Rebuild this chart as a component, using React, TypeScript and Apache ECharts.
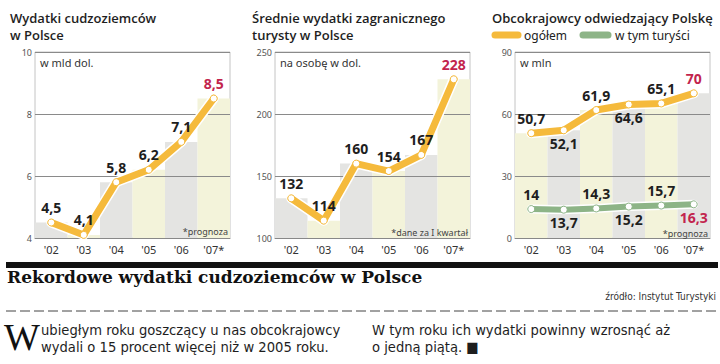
import React, { useEffect, useRef } from "react";
import * as echarts from "echarts";

const years = ["'02", "'03", "'04", "'05", "'06", "'07*"];
const spending = [4.5, 4.1, 5.8, 6.2, 7.1, 8.5];
const perTourist = [132, 114, 160, 154, 167, 228];
const visitorsTotal = [50.7, 52.1, 61.9, 64.6, 65.1, 70];
const visitorsTourists = [14, 13.7, 14.3, 15.2, 15.7, 16.3];

const axis1 = { min: 4, max: 10, interval: 2 };
const axis2 = { min: 100, max: 250, interval: 50 };
const axis3 = { min: 0, max: 90, interval: 30 };

const ORANGE = "#f5ba3c";
const GREEN = "#8db487";
const RED = "#c2244d";
const GRAY_COL = "#e4e4e2";
const CREAM_COL = "#f3f3da";
const INK = "#1e1e1e";

const GRID_LEFTS = [35, 275, 515];
const GRID_TOP = 52;
const GRID_W = 195;
const GRID_H = 186;

const fmt = (v: number) => String(v).replace(".", ",");

function pointData(values: number[], positions: string[], lastRed: boolean) {
  return values.map((v, i) => ({
    value: v,
    label: {
      position: positions[i],
      distance: positions[i] === "bottom" ? 2 : 4,
      color: lastRed && i === values.length - 1 ? RED : INK,
    },
  }));
}

function panelSeries(
  idx: number,
  values: number[],
  firstGray: boolean,
  positions: string[]
) {
  const cols = firstGray ? [GRAY_COL, CREAM_COL] : [CREAM_COL, GRAY_COL];
  return [
    {
      type: "bar",
      xAxisIndex: idx,
      yAxisIndex: idx,
      data: values,
      barWidth: "100%",
      barGap: "0%",
      silent: true,
      z: 1,
      itemStyle: { color: (p: any) => cols[p.dataIndex % 2] },
    },
    ...lineSeries(idx, values, ORANGE, positions, 7),
  ];
}

function lineSeries(
  idx: number,
  values: number[],
  color: string,
  positions: string[],
  width: number
) {
  return [
    {
      type: "line",
      xAxisIndex: idx,
      yAxisIndex: idx,
      data: values,
      symbol: "none",
      silent: true,
      z: 4,
      lineStyle: { color: "#ffffff", width: width + 3, join: "round", cap: "round" },
    },
    {
      type: "line",
      xAxisIndex: idx,
      yAxisIndex: idx,
      data: pointData(values, positions, true),
      symbol: "circle",
      symbolSize: 7,
      z: 5,
      lineStyle: { color, width, join: "round", cap: "round" },
      itemStyle: { color: "#ffffff", borderColor: color, borderWidth: 1 },
      label: {
        show: true,
        fontFamily: "Noto Sans",
        fontWeight: "bold",
        fontSize: 14,
        formatter: (p: any) => fmt(p.value),
      },
    },
  ];
}

export default function App() {
  const ref = useRef<HTMLDivElement>(null);

  useEffect(() => {
    if (!ref.current) return;
    const chart = echarts.init(ref.current, undefined, { renderer: "svg" });

    const axes = [axis1, axis2, axis3];
    const grid = GRID_LEFTS.map((left) => ({
      left,
      top: GRID_TOP,
      width: GRID_W,
      height: GRID_H,
      show: true,
      backgroundColor: "#ffffff",
      borderColor: "#c4c4c4",
      borderWidth: 1,
      containLabel: false,
    }));
    const xAxis = axes.map((_, i) => ({
      type: "category",
      gridIndex: i,
      data: years,
      boundaryGap: true,
      axisLine: { show: true, lineStyle: { color: "#888", width: 1 } },
      axisTick: { show: false },
      axisLabel: {
        color: "#333",
        fontSize: 11,
        fontFamily: "Noto Sans",
        margin: 6,
      },
      z: 3,
    }));
    const yAxis = axes.map((a, i) => ({
      type: "value",
      gridIndex: i,
      min: a.min,
      max: a.max,
      interval: a.interval,
      axisLine: { show: false },
      axisTick: { show: false },
      axisLabel: {
        color: "#555",
        fontSize: 9,
        fontFamily: "Noto Sans",
        margin: 3,
        verticalAlign: "middle",
      },
      splitLine: { show: true, lineStyle: { color: "#8a8a8a", width: 1 } },
      z: 3,
    }));

    const series = [
      ...panelSeries(0, spending, true, ["top", "top", "top", "top", "top", "top"]),
      ...panelSeries(1, perTourist, true, ["top", "top", "top", "top", "top", "top"]),
      ...panelSeries(2, visitorsTotal, false, ["top", "bottom", "top", "bottom", "top", "top"]),
      ...lineSeries(2, visitorsTourists, GREEN, ["top", "bottom", "top", "bottom", "top", "bottom"], 6),
    ];

    const titleStyle = {
      fill: "#1e1e1e",
      fontSize: 13,
      fontFamily: "Open Sans",
      fontWeight: 600,
      lineHeight: 17,
      verticalAlign: "top",
    };
    const noteStyle = { fill: "#333", fontSize: 11, fontFamily: "Noto Sans", verticalAlign: "middle" };
    const footStyle = { fill: "#444", fontSize: 9, fontFamily: "Noto Sans", align: "right", verticalAlign: "middle" };
    const bodyStyle = {
      fill: "#1e1e1e",
      fontSize: 14.6,
      fontFamily: "'Liberation Sans Narrow', 'DejaVu Sans Condensed', sans-serif",
      lineHeight: 17,
      verticalAlign: "top",
    };

    const graphic: any[] = [
      { type: "text", left: 10, top: 9, style: { ...titleStyle, text: "Wydatki cudzoziemców\nw Polsce" } },
      { type: "text", left: 252, top: 9, style: { ...titleStyle, text: "Średnie wydatki zagranicznego\nturysty w Polsce" } },
      { type: "text", left: 492, top: 9, style: { ...titleStyle, text: "Obcokrajowcy odwiedzający Polskę" } },
      // legend
      { type: "line", shape: { x1: 495, y1: 35, x2: 518, y2: 35 }, style: { stroke: ORANGE, lineWidth: 7, lineCap: "round" } },
      { type: "text", x: 524, y: 35, style: { ...noteStyle, fontSize: 12, fill: "#222", text: "ogółem" } },
      { type: "line", shape: { x1: 583, y1: 35, x2: 608, y2: 35 }, style: { stroke: GREEN, lineWidth: 7, lineCap: "round" } },
      { type: "text", x: 615, y: 35, style: { ...noteStyle, fontSize: 12, fill: "#222", text: "w tym turyści" } },
      // inner notes
      { type: "text", x: 40, y: 62, z: 10, style: { ...noteStyle, text: "w mld dol." } },
      { type: "text", x: 280, y: 62, z: 10, style: { ...noteStyle, text: "na osobę w dol." } },
      { type: "text", x: 520, y: 62, z: 10, style: { ...noteStyle, text: "w mln" } },
      { type: "text", x: 228, y: 231, z: 10, style: { ...footStyle, text: "*prognoza" } },
      { type: "text", x: 468, y: 232, z: 10, style: { ...footStyle, text: "*dane za I kwartał" } },
      { type: "text", x: 708, y: 233, z: 10, style: { ...footStyle, text: "*prognoza" } },
      // bottom block
      { type: "rect", shape: { x: 6, y: 262, width: 712, height: 6 }, style: { fill: "#111" } },
      {
        type: "text",
        x: 7,
        y: 277,
        style: {
          text: "Rekordowe wydatki cudzoziemców w Polsce",
          fill: "#111",
          fontSize: 17,
          fontWeight: "bold",
          fontFamily: "DejaVu Serif",
          verticalAlign: "middle",
        },
      },
      {
        type: "text",
        x: 716,
        y: 296,
        style: {
          text: "źródło: Instytut Turystyki",
          fill: "#333",
          fontSize: 10,
          fontFamily: "'Liberation Sans Narrow', 'DejaVu Sans Condensed', sans-serif",
          align: "right",
          verticalAlign: "middle",
        },
      },
      {
        type: "line",
        shape: { x1: 6, y1: 311, x2: 718, y2: 311 },
        style: { stroke: "#444", lineWidth: 1, lineDash: [10, 4] },
      },
      {
        type: "text",
        x: 4,
        y: 318,
        style: {
          text: "W",
          fill: "#111",
          fontSize: 38,
          fontFamily: "Liberation Serif",
          verticalAlign: "top",
        },
      },
      {
        type: "text",
        x: 41,
        y: 321,
        style: {
          ...bodyStyle,
          text: "ubiegłym roku goszczący u nas obcokrajowcy\nwydali o 15 procent więcej niż w 2005 roku.",
        },
      },
      {
        type: "text",
        x: 372,
        y: 321,
        style: {
          ...bodyStyle,
          text: "W tym roku ich wydatki powinny wzrosnąć aż\no jedną piątą. ■",
        },
      },
    ];

    chart.setOption({
      animation: false,
      backgroundColor: "#ffffff",
      grid,
      xAxis,
      yAxis,
      series,
      graphic,
    });
    return () => chart.dispose();
  }, []);

  return (
    <div
      ref={ref}
      style={{ position: "absolute", left: 0, top: 0, width: 720, height: 364 }}
    />
  );
}
